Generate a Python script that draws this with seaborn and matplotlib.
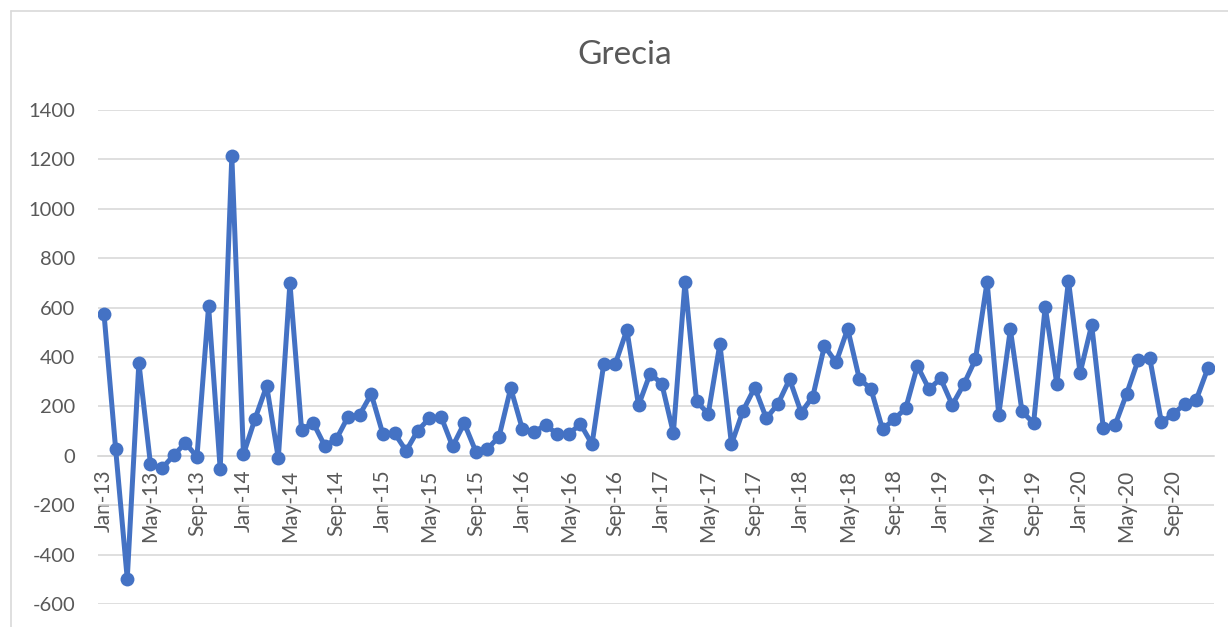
import pandas as pd
import numpy as np
import matplotlib
matplotlib.use("Agg")
import matplotlib.pyplot as plt
from matplotlib.lines import Line2D
import seaborn as sns

# Data (monthly, Jan-13 .. Dec-20)
months = list(pd.date_range("2013-01-01", periods=96, freq="MS").strftime("%b-%y"))
values = [575, 28, -498, 377, -34, -50, 2, 52, -4, 606, -55, 1213,
          6, 150, 283, -10, 700, 106, 134, 40, 68, 158, 166, 250,
          88, 92, 20, 102, 152, 159, 38, 132, 17, 28, 78, 274,
          109, 96, 125, 88, 88, 129, 47, 370, 372, 510, 204, 333,
          292, 92, 705, 220, 170, 453, 47, 183, 276, 152, 210, 310,
          175, 240, 445, 378, 514, 312, 271, 108, 148, 193, 364, 270,
          313, 206, 290, 391, 705, 166, 512, 180, 132, 604, 291, 709,
          335, 530, 112, 123, 250, 388, 395, 135, 169, 209, 227, 355]
y_ticks = list(range(-600, 1401, 200))
title = "Grecia"

df = pd.DataFrame({"pos": range(len(months)), "month": months, "value": values})

sns.set_style("white")
plt.rcParams["font.family"] = ["Lato", "DejaVu Sans"]

grey_text = "#595959"
grid_col = "#d9d9d9"
blue = "#4472C4"

fig = plt.figure(figsize=(12.28, 6.27), dpi=100)
ax = fig.add_axes([98.2 / 1228, 1 - 604 / 627, (1213.7 - 98.2) / 1228, (604 - 110) / 627])

sns.lineplot(data=df, x="pos", y="value", ax=ax, color=blue, linewidth=3.6,
             marker="o", markersize=10, markeredgewidth=0, zorder=3)

ax.set_xlim(-0.5, len(months) - 0.5)
ax.set_ylim(-600, 1400)
ax.set_yticks(y_ticks)
ax.set_yticklabels([str(v) for v in y_ticks], color=grey_text, fontsize=14.5)
ax.tick_params(axis="y", length=0, pad=16.5)
ax.grid(axis="y", color=grid_col, linewidth=1.2)
ax.set_axisbelow(True)

# category axis crossing at zero
ax.spines["bottom"].set_position(("data", 0))
ax.spines["bottom"].set_color(grid_col)
ax.spines["bottom"].set_linewidth(1.2)
for s in ["left", "right", "top"]:
    ax.spines[s].set_visible(False)

label_pos = list(range(0, len(months), 4))
ax.set_xticks(label_pos)
ax.set_xticklabels([months[i] for i in label_pos], rotation=90, color=grey_text, fontsize=15)
ax.set_xticks([i - 0.5 for i in label_pos] + [len(months) - 0.5], minor=True)
ax.tick_params(axis="x", which="major", length=0, pad=10)
ax.tick_params(axis="x", which="minor", length=6, color=grid_col, width=1.2, direction="out")
ax.set_xlabel("")
ax.set_ylabel("")

fig.text(625 / 1228, 1 - 55 / 627, title, ha="center", va="center", fontsize=24, color=grey_text)

# chart area border
fig.add_artist(Line2D([11 / 1228, 11 / 1228], [0, 1 - 11 / 627], transform=fig.transFigure,
                      color=grid_col, linewidth=1.2))
fig.add_artist(Line2D([11 / 1228, 1], [1 - 11 / 627, 1 - 11 / 627], transform=fig.transFigure,
                      color=grid_col, linewidth=1.2))

fig.savefig("out.png", dpi=100)
